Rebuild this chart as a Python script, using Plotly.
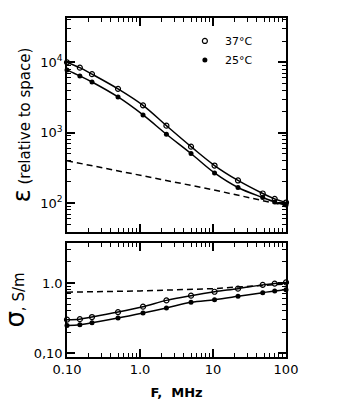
import plotly.graph_objects as go

freq = [0.1, 0.15, 0.22, 0.5, 1.1, 2.3, 5, 10.5, 22, 48, 70, 100]
eps_37 = [10000, 8400, 6800, 4200, 2450, 1260, 635, 342, 210, 137, 115, 102]
eps_25 = [7800, 6400, 5260, 3220, 1790, 953, 507, 269, 167, 120, 104, 94]
eps_dash_f = [0.1, 1, 10, 100]
eps_dash = [400, 250, 155, 92]

sig_37 = [0.30, 0.305, 0.327, 0.385, 0.46, 0.565, 0.66, 0.75, 0.83, 0.94, 0.98, 1.02]
sig_25 = [0.248, 0.254, 0.271, 0.316, 0.373, 0.44, 0.53, 0.578, 0.645, 0.728, 0.77, 0.80]
sig_dash_f = [0.1, 1, 10, 100]
sig_dash = [0.74, 0.77, 0.83, 0.97]

x_major = [0.1, 1, 10, 100]
x_labels = ["0.10", "1.0", "10", "100"]
eps_major = [100, 1000, 10000]
eps_labels = ["10<sup>2</sup>", "10<sup>3</sup>", "10<sup>4</sup>"]
sig_major = [0.1, 1.0]
sig_labels = ["0,10", "1.0"]

FONT = "DejaVu Sans"
fig = go.Figure()

ln = dict(color="black", width=1.5, shape="spline")
open_m = dict(symbol="circle-open", size=5, color="black", line=dict(width=1.2))
fill_m = dict(symbol="circle", size=5, color="black")


def add_series(x, y, marker, name, xa, ya, legend):
    fig.add_trace(go.Scatter(x=x, y=y, mode="lines", line=ln, showlegend=False,
                             cliponaxis=False, xaxis=xa, yaxis=ya))
    fig.add_trace(go.Scatter(x=x, y=y, mode="markers", marker=marker, name=name,
                             showlegend=legend, cliponaxis=False, xaxis=xa, yaxis=ya))


add_series(freq, eps_37, open_m, "37°C", "x", "y", True)
add_series(freq, eps_25, fill_m, "25°C", "x", "y", True)
fig.add_trace(go.Scatter(x=eps_dash_f, y=eps_dash, mode="lines", showlegend=False,
                         line=dict(color="black", width=1.5, dash="6px,4px"),
                         xaxis="x", yaxis="y"))
add_series(freq, sig_37, open_m, "37°C", "x2", "y2", False)
add_series(freq, sig_25, fill_m, "25°C", "x2", "y2", False)
fig.add_trace(go.Scatter(x=sig_dash_f, y=sig_dash, mode="lines", showlegend=False,
                         line=dict(color="black", width=1.5, dash="6px,4px"),
                         xaxis="x2", yaxis="y2"))

W, H = 338, 420


def sub_ticks(major):
    lo = min(major) / 10
    hi = max(major) * 10
    vals = []
    d = lo
    while d <= hi * 1.0001:
        vals += [d * k for k in range(2, 10)]
        d *= 10
    return vals


def axis(**kw):
    base = dict(type="log", showline=True, linecolor="black", linewidth=1.5, mirror="allticks",
                ticks="inside", ticklen=8, tickwidth=1.5, tickcolor="black", showgrid=False,
                zeroline=False, automargin=False,
                tickfont=dict(family=FONT, size=13, color="black"))
    base.update(kw)
    return base


xdom = [67 / W, 286 / W]
ydom1 = [1 - 232 / H, 1 - 18 / H]
ydom2 = [1 - 357 / H, 1 - 243 / H]
xr = [-1, 2]
yr1 = [1.59, 4.63]
yr2 = [-1.055, 0.57]


def minor(vals):
    return dict(ticks="inside", ticklen=4, tickwidth=1.2, tickcolor="black",
                showgrid=False, tickmode="array", tickvals=vals)


fig.update_layout(
    template="none",
    width=W, height=H, margin=dict(l=0, r=0, t=0, b=0, pad=0), autosize=False,
    paper_bgcolor="white", plot_bgcolor="white",
    font=dict(family=FONT, color="black"),
    xaxis=axis(domain=xdom, range=xr, anchor="y", showticklabels=False,
               tickmode="array", tickvals=x_major, minor=minor(sub_ticks(x_major))),
    yaxis=axis(domain=ydom1, anchor="x", range=yr1, tickmode="array",
               tickvals=eps_major, ticktext=eps_labels, minor=minor(sub_ticks(eps_major)),
               title=dict(text="<span style='font-size:24px'>ε</span> (relative to space)",
                          font=dict(family=FONT, size=15), standoff=6)),
    xaxis2=axis(domain=xdom, range=xr, anchor="y2", tickmode="array",
                tickvals=x_major, ticktext=x_labels, minor=minor(sub_ticks(x_major)),
                title=dict(text="<b>F,  MHz</b>", font=dict(family=FONT, size=13), standoff=12)),
    yaxis2=axis(domain=ydom2, anchor="x2", range=yr2, tickmode="array",
                tickvals=sig_major, ticktext=sig_labels, minor=minor(sub_ticks(sig_major)),
                title=dict(text="<span style='font-size:26px'>σ</span>, S/m",
                           font=dict(family=FONT, size=15), standoff=6)),
    legend=dict(x=0.547, y=0.937, xanchor="left", yanchor="top", bgcolor="rgba(0,0,0,0)",
                font=dict(family=FONT, size=11, color="black"), tracegroupgap=0,
                itemwidth=30),
)

fig.write_html("out.html")
